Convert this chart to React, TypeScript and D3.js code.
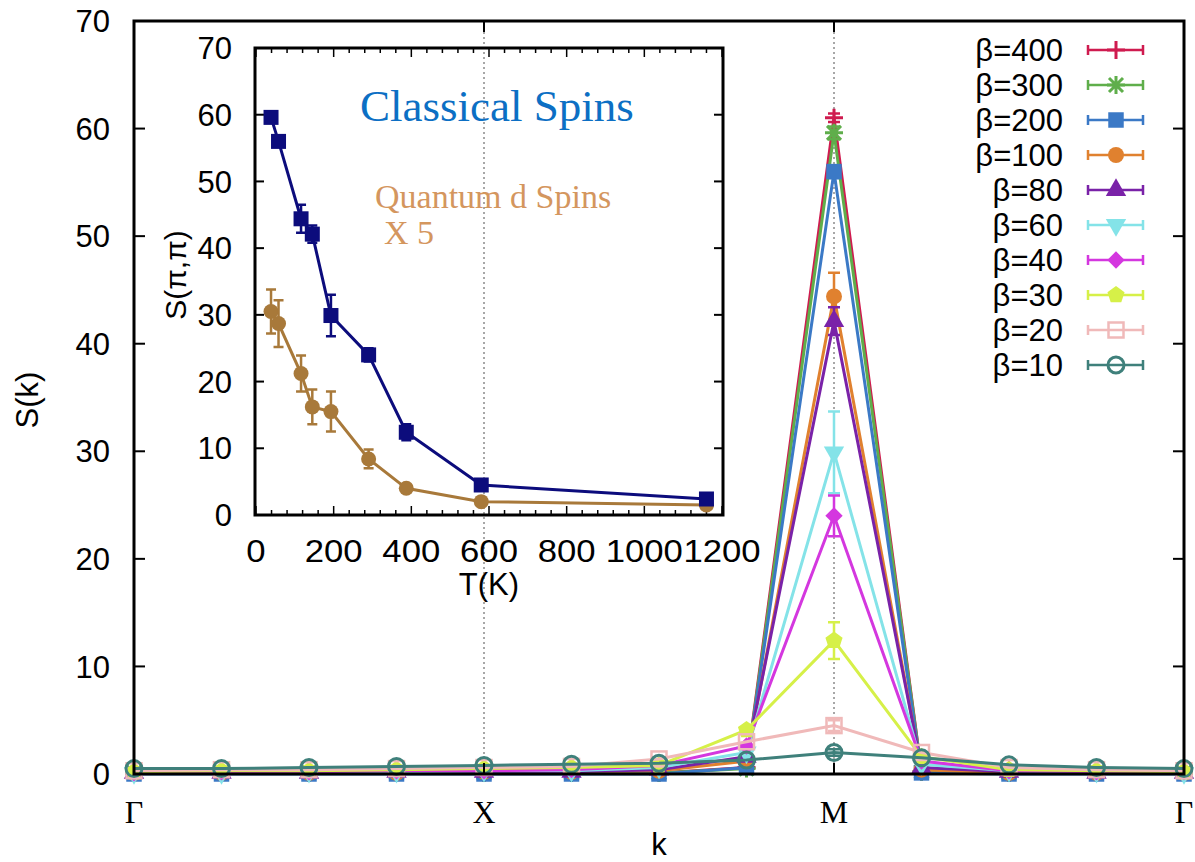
import React from 'react';
import * as d3 from 'd3';

// main panel: S(k) along Γ-X-M-Γ, 13 k points
const kTickIdx = [0, 4, 8, 12];
const kTickLabels = ['Γ', 'X', 'M', 'Γ'];
const sTicks = [0, 10, 20, 30, 40, 50, 60, 70];

const betaLabels = ['β=400', 'β=300', 'β=200', 'β=100', 'β=80', 'β=60', 'β=40', 'β=30', 'β=20', 'β=10'];
const betaColors = ['#cf1b4f', '#5fae4b', '#3b79c6', '#e0812f', '#7a22a8', '#84e3e8', '#d437df', '#d6f048', '#f0b9b9', '#3f807b'];
const betaMarkers = ['plus', 'asterisk', 'square', 'circle', 'triangle', 'triangleDown', 'diamond', 'pentagon', 'squareOpen', 'circleOpen'];

const s400 = [0.1, 0.1, 0.1, 0.1, 0.1, 0.1, 0.1, 0.6, 61.0, 0.2, 0.1, 0.1, 0.1];
const s300 = [0.1, 0.1, 0.1, 0.1, 0.1, 0.1, 0.1, 0.5, 59.6, 0.2, 0.1, 0.1, 0.1];
const s200 = [0.0, 0.0, 0.0, 0.0, 0.0, 0.0, 0.0, 0.6, 56.0, 0.1, 0.0, 0.0, 0.0];
const s100 = [0.1, 0.1, 0.1, 0.1, 0.2, 0.2, 0.3, 1.2, 44.4, 0.4, 0.1, 0.1, 0.1];
const s80 = [0.1, 0.1, 0.1, 0.2, 0.2, 0.2, 0.4, 1.6, 42.1, 0.6, 0.2, 0.1, 0.1];
const s60 = [0.1, 0.1, 0.2, 0.2, 0.3, 0.3, 0.6, 2.0, 29.9, 0.9, 0.3, 0.2, 0.1];
const s40 = [0.1, 0.2, 0.2, 0.3, 0.3, 0.4, 0.8, 2.6, 24.0, 1.2, 0.3, 0.2, 0.2];
const s30 = [0.2, 0.3, 0.3, 0.4, 0.5, 0.6, 0.8, 4.1, 12.4, 1.6, 0.4, 0.3, 0.2];
const s20 = [0.3, 0.4, 0.4, 0.5, 0.6, 0.7, 1.4, 3.0, 4.5, 2.0, 0.6, 0.4, 0.3];
const s10 = [0.5, 0.5, 0.6, 0.7, 0.8, 0.9, 1.0, 1.3, 2.0, 1.5, 0.85, 0.6, 0.5];
const seriesValues = [s400, s300, s200, s100, s80, s60, s40, s30, s20, s10];
// error bars at the M point
const peakErr = [0.4, 0.6, 0.6, 2.2, 1.3, 3.8, 1.9, 1.7, 0.5, 0.3];

// inset: S(pi,pi) vs T
const tempK = [38.7, 58, 116, 145, 193, 290, 387, 580, 1160];
const classicalS = [59.6, 56.0, 44.4, 42.1, 29.9, 24.0, 12.4, 4.5, 2.4];
const classicalErr = [0.6, 0.6, 2.1, 1.3, 3.1, 1.0, 1.2, 0.4, 0.3];
const quantumS = [30.5, 28.7, 21.2, 16.2, 15.5, 8.4, 4.0, 2.0, 1.5];
const quantumErr = [3.3, 3.5, 2.7, 2.6, 3.0, 1.4, 0.5, 0.4, 0.3];
const insetXTicks = [0, 200, 400, 600, 800, 1000, 1200];
const insetMinor = d3.range(0, 1201, 40);

const sans = 'Liberation Sans, Arial, sans-serif';
const serif = 'Liberation Serif, Times New Roman, serif';

function Marker({ type, x, y, color }: { type: string; x: number; y: number; color: string }) {
  const t = `translate(${x},${y})`;
  switch (type) {
    case 'plus':
      return <path d="M-9,0H9M0,-9V9" transform={t} stroke={color} strokeWidth={3} fill="none" />;
    case 'asterisk':
      return <path d="M-9,0H9M0,-9V9M-7,-7L7,7M-7,7L7,-7" transform={t} stroke={color} strokeWidth={3} fill="none" />;
    case 'square':
      return <path d={d3.symbol(d3.symbolSquare, 240)()!} transform={t} fill={color} />;
    case 'circle':
      return <circle cx={x} cy={y} r={8} fill={color} />;
    case 'triangle':
      return <path d={d3.symbol(d3.symbolTriangle, 180)()!} transform={t} fill={color} />;
    case 'triangleDown':
      return <path d={d3.symbol(d3.symbolTriangle, 180)()!} transform={`${t} rotate(180)`} fill={color} />;
    case 'diamond':
      return <path d={d3.symbol(d3.symbolSquare, 150)()!} transform={`${t} rotate(45)`} fill={color} />;
    case 'pentagon': {
      const pts = d3.range(5).map((i) => {
        const a = -Math.PI / 2 + (i * 2 * Math.PI) / 5;
        return [9 * Math.cos(a), 9 * Math.sin(a)] as [number, number];
      });
      return <path d={d3.line()(pts)! + 'Z'} transform={t} fill={color} />;
    }
    case 'squareOpen':
      return <rect x={x - 7.5} y={y - 7.5} width={15} height={15} fill="none" stroke={color} strokeWidth={2.5} />;
    case 'circleOpen':
      return <circle cx={x} cy={y} r={8} fill="none" stroke={color} strokeWidth={3} />;
    default:
      return null;
  }
}

function ErrBar({ x, y0, y1, color, w = 6 }: { x: number; y0: number; y1: number; color: string; w?: number }) {
  return (
    <path d={`M${x},${y0}V${y1}M${x - w},${y0}H${x + w}M${x - w},${y1}H${x + w}`} stroke={color} strokeWidth={2.5} fill="none" />
  );
}

export default function App() {
  const W = 1195;
  const H = 862;
  const x = d3.scaleLinear().domain([0, 12]).range([134, 1184]);
  const y = d3.scaleLinear().domain([0, 70]).range([774, 21]);
  const xi = d3.scaleLinear().domain([0, 1200]).range([256, 722]);
  const yi = d3.scaleLinear().domain([0, 70]).range([515, 48]);

  const mainLine = d3
    .line<number>()
    .x((_, i) => x(i))
    .y((d) => y(d));
  const insetLine = d3
    .line<number>()
    .x((_, i) => xi(tempK[i]))
    .y((d) => yi(d));

  const [x0, x1] = x.range();
  const [yb, yt] = y.range();
  const [ix0, ix1] = [255, 723];
  const [iyb, iyt] = yi.range();

  return (
    <svg width={W} height={H} style={{ position: 'absolute', left: 0, top: 0, background: '#fff' }}>
      {/* dotted guides at X and M */}
      {[4, 8].map((i) => (
        <line key={i} x1={x(i)} x2={x(i)} y1={yb} y2={yt} stroke="#8a8a8a" strokeWidth={1.5} strokeDasharray="2,3" />
      ))}

      {/* main series */}
      {seriesValues.map((vals, si) => (
        <g key={si}>
          <path d={mainLine(vals)!} fill="none" stroke={betaColors[si]} strokeWidth={3} />
          <ErrBar x={x(8)} y0={y(vals[8] - peakErr[si])} y1={y(vals[8] + peakErr[si])} color={betaColors[si]} />
          {vals.map((v, i) => (
            <Marker key={i} type={betaMarkers[si]} x={x(i)} y={y(v)} color={betaColors[si]} />
          ))}
        </g>
      ))}

      {/* main frame */}
      <rect x={x0} y={yt} width={x1 - x0} height={yb - yt} fill="none" stroke="#000" strokeWidth={3} />
      {sTicks.map((t) => (
        <g key={t}>
          <line x1={x0} x2={x0 + 11} y1={y(t)} y2={y(t)} stroke="#000" strokeWidth={2} />
          <line x1={x1} x2={x1 - 11} y1={y(t)} y2={y(t)} stroke="#000" strokeWidth={2} />
          <text x={110} y={y(t)} dy="0.36em" textAnchor="end" fontFamily={sans} fontSize={31}>
            {t}
          </text>
        </g>
      ))}
      {kTickIdx.map((k, i) => (
        <g key={i}>
          <line x1={x(k)} x2={x(k)} y1={yb} y2={yb - 11} stroke="#000" strokeWidth={2} />
          <line x1={x(k)} x2={x(k)} y1={yt} y2={yt + 11} stroke="#000" strokeWidth={2} />
          <text x={x(k)} y={823} textAnchor="middle" fontFamily={serif} fontSize={32}>
            {kTickLabels[i]}
          </text>
        </g>
      ))}
      <text x={659} y={855} textAnchor="middle" fontFamily={sans} fontSize={31}>k</text>
      <text transform="translate(38,400) rotate(-90)" textAnchor="middle" fontFamily={sans} fontSize={31}>S(k)</text>

      {/* legend */}
      {betaLabels.map((lab, i) => {
        const ly = 50 + i * 35;
        const c = betaColors[i];
        return (
          <g key={lab}>
            <text x={1063} y={ly} dy="0.36em" textAnchor="end" fontFamily={sans} fontSize={31}>
              {lab}
            </text>
            <path d={`M1088,${ly}H1143M1088,${ly - 5}V${ly + 5}M1143,${ly - 5}V${ly + 5}`} stroke={c} strokeWidth={2.5} fill="none" />
            <Marker type={betaMarkers[i]} x={1116} y={ly} color={c} />
          </g>
        );
      })}

      {/* inset */}
      <rect x={ix0} y={iyt} width={ix1 - ix0} height={iyb - iyt} fill="none" stroke="#000" strokeWidth={3} />
      {sTicks.map((t) => (
        <g key={t}>
          <line x1={ix0} x2={ix0 + 9} y1={yi(t)} y2={yi(t)} stroke="#000" strokeWidth={2} />
          <line x1={ix1} x2={ix1 - 9} y1={yi(t)} y2={yi(t)} stroke="#000" strokeWidth={2} />
          <text x={232} y={yi(t)} dy="0.36em" textAnchor="end" fontFamily={sans} fontSize={31}>
            {t}
          </text>
        </g>
      ))}
      {insetMinor.map((t) => {
        const major = t % 200 === 0;
        const len = major ? 9 : 5;
        return (
          <g key={t}>
            <line x1={xi(t)} x2={xi(t)} y1={iyb} y2={iyb - len} stroke="#000" strokeWidth={1.5} />
            <line x1={xi(t)} x2={xi(t)} y1={iyt} y2={iyt + len} stroke="#000" strokeWidth={1.5} />
          </g>
        );
      })}
      {insetXTicks.map((t) => (
        <text
          key={t}
          x={xi(t)}
          y={562}
          textAnchor="middle"
          fontFamily={sans}
          fontSize={32}
          textLength={String(t).length * 19.3}
          lengthAdjust="spacingAndGlyphs"
        >
          {t}
        </text>
      ))}
      <text x={489} y={595} textAnchor="middle" fontFamily={sans} fontSize={31}>T(K)</text>
      <text transform="translate(186,275) rotate(-90)" textAnchor="middle" fontFamily={sans} fontSize={30}>S(π,π)</text>

      <path d={insetLine(quantumS)!} fill="none" stroke="#a8793a" strokeWidth={3} />
      {quantumS.map((v, i) => (
        <g key={i}>
          <ErrBar x={xi(tempK[i])} y0={yi(v - quantumErr[i])} y1={yi(v + quantumErr[i])} color="#a8793a" w={5} />
          <circle cx={xi(tempK[i])} cy={yi(v)} r={7.5} fill="#a8793a" />
        </g>
      ))}
      <path d={insetLine(classicalS)!} fill="none" stroke="#0c0c7c" strokeWidth={3} />
      {classicalS.map((v, i) => (
        <g key={i}>
          <ErrBar x={xi(tempK[i])} y0={yi(v - classicalErr[i])} y1={yi(v + classicalErr[i])} color="#0c0c7c" w={5} />
          <rect x={xi(tempK[i]) - 7.5} y={yi(v) - 7.5} width={15} height={15} fill="#0c0c7c" />
        </g>
      ))}

      <text x={360} y={121} fontFamily={serif} fontSize={45} fill="#0c6fc4">Classical Spins</text>
      <text x={375} y={208} fontFamily={serif} fontSize={34} fill="#d4965e">Quantum d Spins</text>
      <text x={384} y={244} fontFamily={serif} fontSize={34} fill="#d4965e">X 5</text>
    </svg>
  );
}
